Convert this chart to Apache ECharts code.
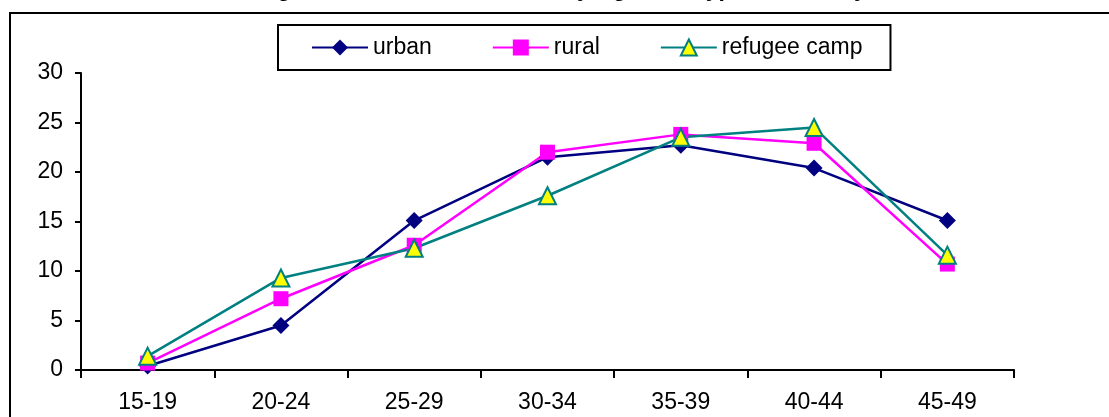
<!DOCTYPE html>
<html>
<head>
<meta charset="utf-8">
<script src="https://cdn.jsdelivr.net/npm/echarts@6/dist/echarts.min.js"></script>
<style>html,body{margin:0;padding:0;background:#fff;}#c{width:1109px;height:417px;}</style>
</head>
<body>
<div id="c"></div>
<script>
const categories = ['15-19','20-24','25-29','30-34','35-39','40-44','45-49'];
const urban = [0.4, 4.5, 15.1, 21.5, 22.7, 20.4, 15.1];
const rural = [0.7, 7.2, 12.6, 22.0, 23.8, 22.9, 10.7];
const refugeeCamp = [1.4, 9.3, 12.3, 17.6, 23.5, 24.5, 11.6];
const titleText = 'Percentage Distribution of Women by Age and Type of Locality, 2000';

const chart = echarts.init(document.getElementById('c'));
const font = '"Liberation Sans", Arial, sans-serif';
chart.setOption({
  animation: false,
  backgroundColor: '#fff',
  title: {
    text: titleText, left: 'center', top: -27,
    textStyle: {fontFamily: font, fontSize: 23, fontWeight: 'bold', color: '#000'}
  },
  graphic: [{
    type: 'rect', shape: {x: 10, y: 13, width: 1120, height: 430},
    style: {fill: 'none', stroke: '#000', lineWidth: 2}, silent: true
  }],
  legend: {
    top: 25, left: 278,
    itemWidth: 56, itemHeight: 20, itemGap: 60,
    padding: [11, 28, 11, 33],
    borderColor: '#000', borderWidth: 2,
    textStyle: {fontFamily: font, fontSize: 23, color: '#000'},
    data: ['urban','rural','refugee camp']
  },
  grid: {left: 81, right: 95, top: 73, bottom: 47, containLabel: false},
  xAxis: {
    type: 'category', data: categories, boundaryGap: true,
    axisLine: {lineStyle: {color: '#000', width: 2}},
    axisTick: {show: true, length: 8, lineStyle: {color: '#000', width: 2}, alignWithLabel: false},
    axisLabel: {fontFamily: font, fontSize: 23, color: '#000', margin: 21},
    splitLine: {show: false}
  },
  yAxis: {
    type: 'value', min: 0, max: 30, interval: 5,
    axisLine: {show: true, lineStyle: {color: '#000', width: 2}},
    axisTick: {show: true, length: 6, lineStyle: {color: '#000', width: 2}},
    axisLabel: {fontFamily: font, fontSize: 23, color: '#000', margin: 18},
    splitLine: {show: false}
  },
  series: [
    {name: 'urban', type: 'line', data: urban, symbol: 'diamond', symbolSize: 17,
     itemStyle: {color: '#000080'}, lineStyle: {color: '#000080', width: 2.5}},
    {name: 'rural', type: 'line', data: rural, symbol: 'rect', symbolSize: 15,
     itemStyle: {color: '#FF00FF'}, lineStyle: {color: '#FF00FF', width: 2.5}},
    {name: 'refugee camp', type: 'line', data: refugeeCamp, symbol: 'triangle', symbolSize: 17,
     itemStyle: {color: '#FFFF00', borderColor: '#008080', borderWidth: 2},
     lineStyle: {color: '#008080', width: 2.5}}
  ]
});
</script>
</body>
</html>
